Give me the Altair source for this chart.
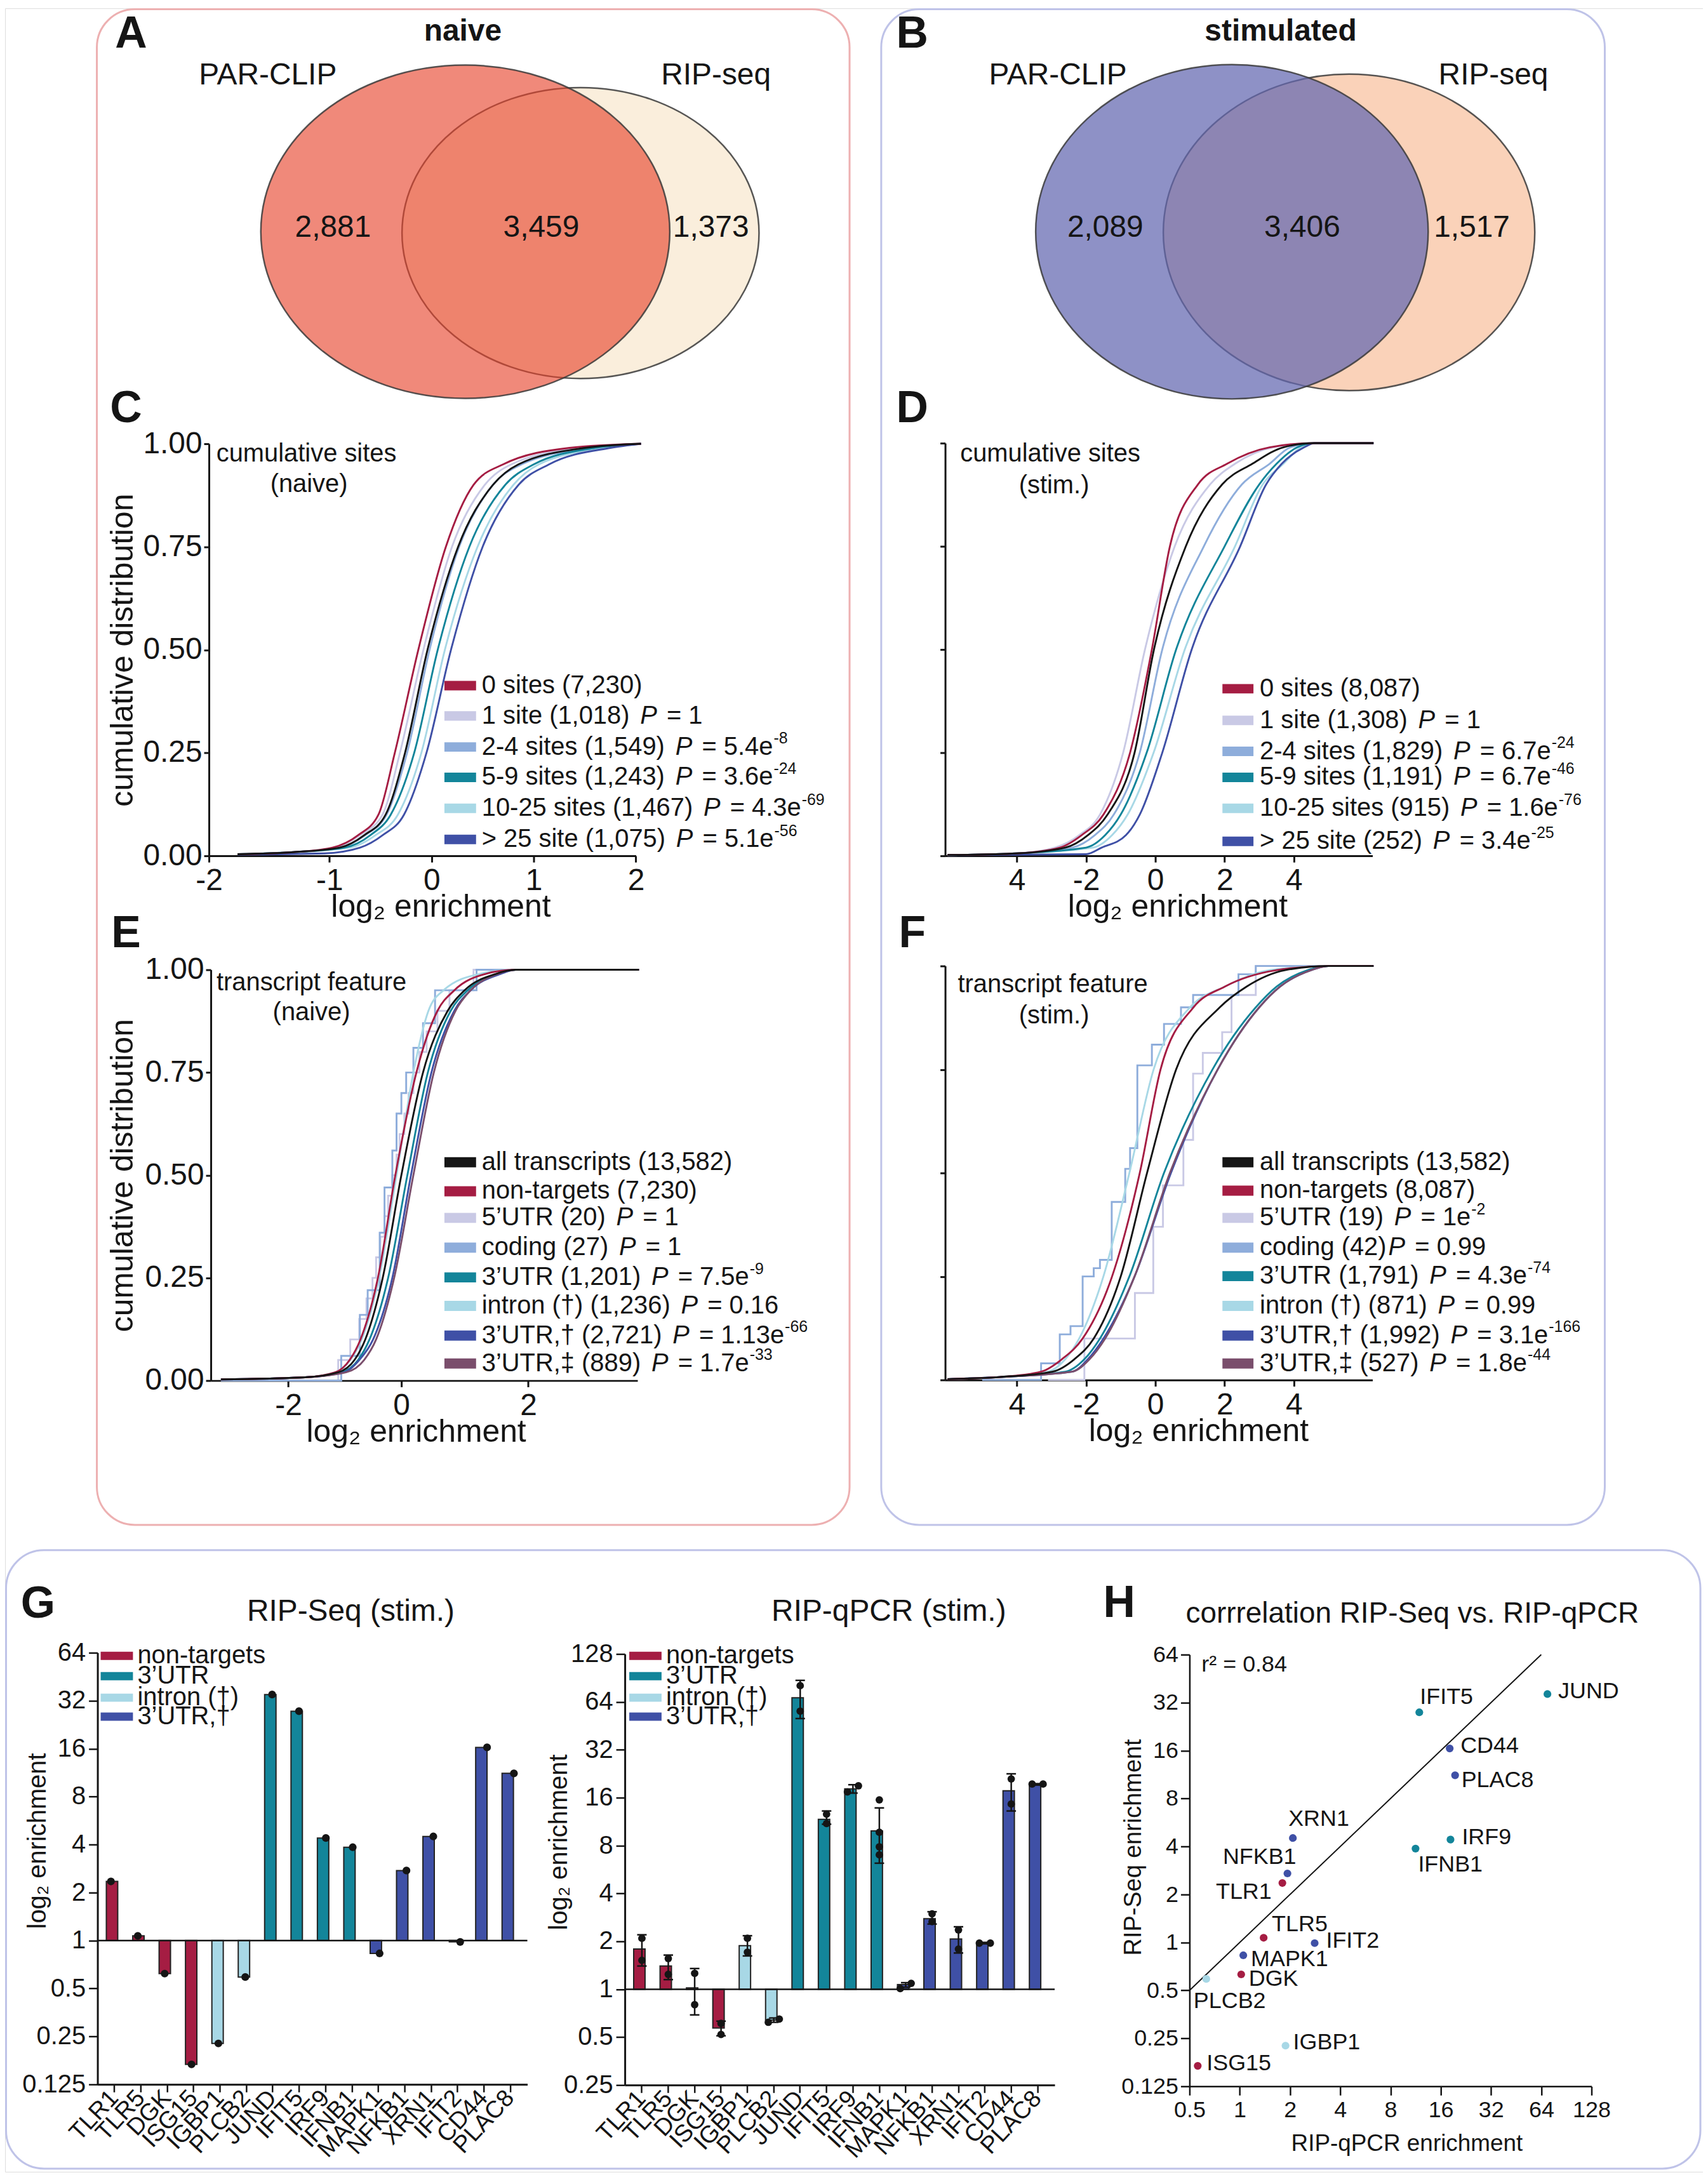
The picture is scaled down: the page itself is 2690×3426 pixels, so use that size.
import altair as alt
import pandas as pd

W, H = 2682, 3418
M = 8
FONT = "Liberation Sans"


def V(r):
    return r - M


RED = "#A51D43"; LAV = "#C9C9E5"; LBLUE = "#8EADDB"; TEAL = "#13859A"
CYAN = "#A8D8E6"; BLUE = "#3F50A6"; PURP = "#7A4E6C"; BLK = "#151515"

# ---------------- data ----------------
VENN_NAIVE = [2881, 3459, 1373]      # PAR-CLIP only, both, RIP-seq only
VENN_STIM = [2089, 3406, 1517]

CUM = [0.02, 0.05, 0.10, 0.25, 0.50, 0.75, 0.90, 0.95, 0.99]

C_ZERO = [-0.97, -0.72, -0.52, -0.36, -0.13, 0.14, 0.41, 0.70, 1.35]
C_ONE = [-0.95, -0.70, -0.48, -0.31, -0.08, 0.20, 0.52, 0.78, 1.45]
C_2_4 = [-0.90, -0.65, -0.44, -0.24, -0.02, 0.27, 0.60, 0.88, 1.55]
C_5_9 = [-0.85, -0.60, -0.40, -0.17, 0.06, 0.37, 0.72, 1.00, 1.60]
C_10_25 = [-0.80, -0.55, -0.33, -0.10, 0.13, 0.45, 0.80, 1.05, 1.70]
C_GT25 = [-0.70, -0.48, -0.27, -0.05, 0.19, 0.50, 0.85, 1.15, 1.75]
C_ALL = [-0.90, -0.66, -0.45, -0.26, -0.04, 0.26, 0.60, 0.85, 1.50]

D_ZERO = [-2.76, -2.13, -1.50, -0.73, -0.10, 0.42, 1.23, 2.07, 3.30]
D_ONE = [-2.90, -2.20, -1.60, -0.93, -0.30, 0.56, 1.58, 2.30, 3.40]
D_2_4 = [-2.40, -1.75, -1.20, -0.45, 0.20, 1.40, 2.50, 3.30, 3.90]
D_5_9 = [-2.00, -1.45, -1.00, -0.25, 0.60, 2.00, 3.00, 3.50, 4.10]
D_10_25 = [-1.80, -1.25, -0.80, -0.05, 0.85, 2.30, 3.10, 3.70, 4.20]
D_GT25 = [-1.55, -0.85, -0.45, 0.20, 1.05, 2.45, 3.20, 3.65, 4.30]
D_ALL = [-2.60, -1.95, -1.38, -0.60, -0.04, 0.88, 1.93, 2.80, 3.70]

E_ALL = [-1.05, -0.78, -0.60, -0.31, 0.00, 0.36, 0.77, 1.05, 1.57]
E_NONT = [-1.10, -0.86, -0.68, -0.39, -0.10, 0.25, 0.60, 0.88, 1.40]
E_UTR3 = [-1.00, -0.72, -0.53, -0.22, 0.10, 0.44, 0.82, 1.10, 1.60]
E_INTRON = [-1.10, -0.85, -0.66, -0.37, -0.08, 0.20, 0.45, 0.70, 1.30]
E_UTR3_D = [-0.95, -0.70, -0.47, -0.15, 0.16, 0.50, 0.88, 1.15, 1.65]
E_UTR3_DD = [-0.92, -0.62, -0.42, -0.12, 0.20, 0.54, 0.90, 1.15, 1.60]
E_UTR5_X = [-3.0, -1.05, -0.85, -0.70, -0.58, -0.48, -0.42, -0.35, -0.28, -0.22, -0.15,
            -0.08, -0.03, 0.05, 0.12, 0.20, 0.30, 0.42, 0.60, 0.80, 1.20, 3.95]
E_UTR5_C = [0.0, 0.05, 0.10, 0.15, 0.20, 0.25, 0.30, 0.35, 0.40, 0.45, 0.50,
            0.55, 0.60, 0.65, 0.70, 0.75, 0.80, 0.85, 0.90, 0.95, 1.0, 1.0]
E_COD_X = [-3.0, -1.0, -0.69, -0.56, -0.36, -0.28, -0.15, -0.08, 0.0, 0.08, 0.20, 0.36, 0.56, 1.25, 3.95]
E_COD_C = [0.0, 0.06, 0.16, 0.22, 0.36, 0.47, 0.56, 0.65, 0.70, 0.75, 0.81, 0.87, 0.95, 1.0, 1.0]

F_ALL = [-2.97, -2.34, -1.78, -1.00, -0.24, 0.60, 1.86, 2.63, 3.75]
F_NONT = [-3.30, -2.70, -2.10, -1.25, -0.45, 0.15, 1.10, 2.00, 3.50]
F_INTRON = [-3.10, -2.60, -2.20, -1.50, -0.75, -0.05, 1.00, 2.00, 3.30]
F_UTR3 = [-2.60, -2.05, -1.60, -0.75, 0.25, 1.65, 2.90, 3.50, 4.40]
F_UTR3_D = [-2.40, -1.95, -1.50, -0.60, 0.45, 1.80, 3.00, 3.60, 4.50]
F_UTR3_DD = [-2.40, -1.90, -1.45, -0.60, 0.42, 1.80, 3.00, 3.60, 4.50]
F_UTR5_X = [-3.1, -2.05, -0.59, -0.06, 0.22, 0.81, 1.09, 1.37, 1.93, 2.2, 2.9, 6.3]
F_UTR5_C = [0.0, 0.10, 0.21, 0.37, 0.47, 0.58, 0.74, 0.79, 0.84, 0.93, 1.0, 1.0]
F_COD_X = [-5.0, -3.3, -2.76, -2.45, -2.1, -1.78, -1.6, -1.26, -0.87, -0.73, -0.52,
           -0.1, 0.25, 0.74, 1.09, 2.4, 2.9, 6.3]
F_COD_C = [0.0, 0.04, 0.11, 0.13, 0.25, 0.27, 0.29, 0.43, 0.51, 0.56, 0.76,
           0.81, 0.86, 0.90, 0.93, 0.98, 1.0, 1.0]

G_GENES = ["TLR1", "TLR5", "DGK", "ISG15", "IGBP1", "PLCB2", "JUND", "IFIT5", "IRF9",
           "IFNB1", "MAPK1", "NFKB1", "XRN1", "IFIT2", "CD44", "PLAC8"]
G_CLASS_COLORS = [RED] * 4 + [CYAN] * 2 + [TEAL] * 4 + [BLUE] * 6
RIPSEQ = [2.35, 1.07, 0.62, 0.167, 0.226, 0.59, 35.0, 27.5, 4.4, 3.85, 0.83, 2.75, 4.5, 0.98, 16.3, 11.2]
QPCR_MEAN = [1.79, 1.40, 1.02, 0.57, 1.88, 0.64, 68.0, 11.7, 18.2, 9.9, 1.07, 2.78, 2.07, 1.95, 17.7, 19.4]
QPCR_LO = [1.40, 1.15, 0.69, 0.51, 1.62, 0.62, 50.3, 10.9, 17.1, 6.2, 1.03, 2.57, 1.69, 1.93, 13.2, 19.2]
QPCR_HI = [2.20, 1.64, 1.35, 0.63, 2.17, 0.66, 87.4, 13.2, 19.3, 13.8, 1.10, 3.07, 2.47, 1.97, 22.6, 19.6]
QPCR_REPS = [[2.09, 1.52], [1.56, 1.24], [1.26, 0.80], [0.61, 0.52], [2.09, 1.71], [0.62, 0.65],
             [81.0, 56.0], [12.6, 11.0], [17.4, 19.0], [15.5, 9.7, 7.86, 7.0], [1.01, 1.09],
             [2.98, 2.66], [2.36, 1.79], [1.95, 1.95], [21.0, 14.6], [19.5, 19.5]]
SIDE_BY_SIDE = ["PLCB2", "IRF9", "MAPK1", "IFIT2", "PLAC8"]
H_QPCR = [1.80, 1.39, 1.02, 0.56, 1.88, 0.63, 69.7, 11.9, 18.3, 11.3, 1.05, 1.93, 2.08, 2.81, 18.1, 19.5]
H_RIPSEQ = [2.36, 1.07, 0.63, 0.168, 0.225, 0.59, 36.2, 27.8, 4.42, 3.88, 0.83, 2.71, 4.52, 0.99, 16.5, 11.2]
H_FIT = [0.5, 64]
H_LABEL_POS = {"JUND": ("left", 17, -4), "IFIT5": ("left", 1, -24), "CD44": ("left", 17, -4),
               "PLAC8": ("left", 10, 8), "IRF9": ("left", 18, -4), "IFNB1": ("left", 4, 25),
               "XRN1": ("left", -7, -30), "NFKB1": ("right", 14, -26), "TLR1": ("right", -17, 14),
               "TLR5": ("left", 13, -21), "IFIT2": ("left", 18, -4), "MAPK1": ("left", 12, 6),
               "DGK": ("left", 12, 7), "PLCB2": ("left", -20, 35), "IGBP1": ("left", 12, -5),
               "ISG15": ("left", 14, -4)}

# ---------------- helpers ----------------
AW = {" ": 278, "(": 333, ")": 333, ",": 278, "-": 333, ".": 278, "=": 584, ">": 584,
      "’": 222, "†": 556, "‡": 556}
for _d in "0123456789":
    AW[_d] = 556
AW.update(dict(zip("ABCDEFGHIJKLMNOPQRSTUVWXYZ",
                   [667, 667, 722, 722, 667, 611, 778, 722, 278, 500, 667, 556, 833, 722, 778, 667,
                    778, 722, 667, 611, 722, 667, 944, 667, 667, 611])))
AW.update(dict(zip("abcdefghijklmnopqrstuvwxyz",
                   [556, 556, 500, 556, 556, 278, 556, 556, 222, 222, 500, 222, 833, 556, 556, 556,
                    556, 333, 500, 278, 556, 500, 722, 500, 500, 500])))


def tw(s, size):
    s = " ".join(s.split())
    return sum(AW.get(c, 556) for c in s) * size / 1000.0


def axis(orient, offset, **kw):
    base = dict(orient=orient, offset=offset, domainColor=BLK, tickColor=BLK, labelColor=BLK,
                titleColor=BLK, grid=False, labelFont=FONT, titleFont=FONT,
                titleFontWeight="normal", labelFlush=False, labelOverlap=False)
    base.update(kw)
    return alt.Axis(**base)


def curve(lo, mid, hi):
    return lo[0] + mid + hi[0], lo[1] + CUM + hi[1]


ANN = []
SW = []
LAYERS = []


def legend(items, sw0, sw1, tx, ys, swh, size=40):
    for (color, label, pv, ex, gap), y in zip(items, ys):
        SW.append(dict(x=V(sw0), x2=V(sw1), y=V(y - swh / 2), y2=V(y + swh / 2), color=color))
        ANN.append(dict(x=V(tx), y=V(y), text=label, size=size, style="reg_l"))
        if pv is not None:
            px = tx + tw(label, size) + (0.42 * size if gap else 3)
            ANN.append(dict(x=V(px), y=V(y), text="P", size=size, style="ital_l"))
            s = "= " + pv
            ex_x = px + tw("P", size) + 0.38 * size
            ANN.append(dict(x=V(ex_x), y=V(y), text=s, size=size, style="reg_l"))
            if ex:
                ANN.append(dict(x=V(ex_x + tw(s, size) + 1), y=V(y - 0.34 * size), text=ex,
                                size=round(size * 0.62), style="reg_l"))


def cdf_panel(series, xdom, xr, yr, xvals, xexpr, ylabels, ytitle, ytx, xtx):
    xs = alt.Scale(domain=xdom, range=[V(xr[0]), V(xr[1])], nice=False, zero=False)
    ys = alt.Scale(domain=[0, 1], range=[V(yr[0]), V(yr[1])], nice=False, zero=False)
    xa = axis("bottom", V(yr[0]) - H, values=xvals, labelExpr=xexpr, labelFontSize=48,
              tickSize=10, tickWidth=3, domainWidth=3, labelPadding=6,
              title="log₂ enrichment", titleFontSize=50, titleX=V(xtx), titleY=96,
              titleAlign="center", titleBaseline="alphabetic", titleAngle=0)
    ykw = dict(values=[0, 0.25, 0.5, 0.75, 1], format=".2f", labels=ylabels, labelFontSize=48,
               tickSize=8, tickWidth=3, domainWidth=3, labelPadding=3)
    if ytitle:
        ykw.update(title=ytitle, titleFontSize=50, titleX=ytx, titleY=V((yr[0] + yr[1]) / 2),
                   titleAngle=270, titleAlign="center", titleBaseline="alphabetic")
    else:
        ykw.update(title=None)
    ya = axis("left", -V(xr[0]), **ykw)
    for i, (xv, cv, color, interp) in enumerate(series):
        df = pd.DataFrame({"x": xv, "c": cv})
        LAYERS.append(alt.Chart(df).mark_line(interpolate=interp, color=color, strokeWidth=2.9).encode(
            x=alt.X("x:Q", scale=xs, axis=xa if i == len(series) - 1 else None),
            y=alt.Y("c:Q", scale=ys, axis=ya if i == len(series) - 1 else None)))


def ellipse_path(k):
    c = 0.5523
    return (f"M1,0 C1,{c*k:.4f} {c:.4f},{k:.4f} 0,{k:.4f} C{-c:.4f},{k:.4f} -1,{c*k:.4f} -1,0 "
            f"C-1,{-c*k:.4f} {-c:.4f},{-k:.4f} 0,{-k:.4f} C{c:.4f},{-k:.4f} 1,{-c*k:.4f} 1,0 Z")


def venn(counts, k, cx, cy, fills, op, left_size):
    left_total = counts[0] + counts[1]
    right_total = counts[1] + counts[2]
    df = pd.DataFrame({"total": [right_total, left_total], "cx": [V(cx[1]), V(cx[0])],
                       "cy": [V(cy[1]), V(cy[0])], "fill": [fills[1], fills[0]], "op": [1.0, op]})
    return alt.Chart(df).mark_point(shape=ellipse_path(k), filled=True, opacity=1, stroke="#3a3a3a",
                                    strokeWidth=2.5, strokeOpacity=0.85).encode(
        x=alt.X("cx:Q", scale=None), y=alt.Y("cy:Q", scale=None),
        size=alt.Size("total:Q", scale=alt.Scale(domain=[0, left_total], range=[0, left_size]), legend=None),
        fill=alt.Fill("fill:N", scale=None), fillOpacity=alt.FillOpacity("op:Q", scale=None))


# ---------------- boxes ----------------
BOX = pd.DataFrame({"x": [V(153), V(1392), 1.5], "x2": [V(1342), V(2535), V(2686)],
                    "y": [1.5, 1.5, V(2444)], "y2": [V(2404), V(2404), V(3421)],
                    "col": ["#EDB0B1", "#BFC3E8", "#BFC3E8"]})
LAYERS.append(alt.Chart(BOX).mark_rect(fillOpacity=0, strokeWidth=3, cornerRadius=60).encode(
    x=alt.X("x:Q", scale=None), x2="x2:Q", y=alt.Y("y:Q", scale=None), y2="y2:Q",
    stroke=alt.Stroke("col:N", scale=None)))

# ---------------- Venns ----------------
LAYERS.append(venn(VENN_NAIVE, 0.815, [735, 917], [361, 363], ["#E74128", "#FAEEDC"], 0.62, 646 ** 2))
LAYERS.append(venn(VENN_STIM, 0.852, [1946, 2131], [361, 362], ["#6366B0", "#FAD2B9"], 0.72, 620 ** 2))

for s, x, y in [("PAR-CLIP", 423, 114), ("RIP-seq", 1131, 114), ("PAR-CLIP", 1671, 114), ("RIP-seq", 2359, 114)]:
    ANN.append(dict(x=V(x), y=V(y), text=s, size=48, style="reg_c"))
for cnts, xs_ in [(VENN_NAIVE, [526, 855, 1123]), (VENN_STIM, [1746, 2057, 2325])]:
    for n, x in zip(cnts, xs_):
        ANN.append(dict(x=V(x), y=V(355), text=f"{n:,}", size=48, style="reg_c"))
ANN.append(dict(x=V(731), y=V(45), text="naive", size=48, style="bold_c"))
ANN.append(dict(x=V(2023), y=V(45), text="stimulated", size=48, style="bold_c"))
for s, x, y in [("A", 207, 49), ("B", 1441, 49), ("C", 199, 641), ("D", 1441, 641),
                ("E", 199, 1470), ("F", 1441, 1470), ("G", 60, 2529), ("H", 1768, 2528)]:
    ANN.append(dict(x=V(x), y=V(y), text=s, size=70, style="bold_c"))

# ---------------- CDF panels ----------------
INT_EXPR = "datum.value < 0 ? '-' + toString(abs(round(datum.value))) : toString(round(datum.value))"
C_LO = ([-1.9, -1.35], [0.004, 0.009]); C_LO2 = ([-1.9, -1.05], [0.003, 0.006]); C_HI = ([2.05], [1.0])
cdf_panel([
    (*curve(C_LO, C_ONE, C_HI), LAV, "monotone"),
    (*curve(C_LO, C_2_4, C_HI), LBLUE, "monotone"),
    (*curve(C_LO, C_10_25, C_HI), CYAN, "monotone"),
    (*curve(C_LO, C_5_9, C_HI), TEAL, "monotone"),
    (*curve(C_LO2, C_GT25, C_HI), BLUE, "monotone"),
    (*curve(C_LO, C_ZERO, C_HI), RED, "monotone"),
    (*curve(C_LO, C_ALL, C_HI), BLK, "monotone"),
], [-2.18, 2.0], [330, 1004.4], [1347, 696], [-2.18, -1, 0, 1, 2], INT_EXPR,
    True, "cumulative distribution", V(209) - V(330), 696)

D_LO = ([-6.0, -4.0], [0.002, 0.006]); D_LO2 = ([-6.0, -2.0], [0.002, 0.004]); D_HI = ([4.6, 6.3], [1.0, 1.0])
DX_EXPR = ("datum.value == -4 ? '4' : (datum.value < 0 ? '-' + toString(abs(datum.value)) : toString(datum.value))")
cdf_panel([
    (*curve(D_LO, D_ONE, D_HI), LAV, "monotone"),
    (*curve(D_LO, D_2_4, D_HI), LBLUE, "monotone"),
    (*curve(D_LO, D_10_25, D_HI), CYAN, "monotone"),
    (*curve(D_LO, D_5_9, D_HI), TEAL, "monotone"),
    (*curve(D_LO2, D_GT25, D_HI), BLUE, "monotone"),
    (*curve(D_LO, D_ZERO, D_HI), RED, "monotone"),
    (*curve(D_LO, D_ALL, D_HI), BLK, "monotone"),
], [-6.07, 6.27], [1493, 2168], [1347, 695], [-4, -2, 0, 2, 4], DX_EXPR,
    False, None, 0, 1860)

E_LO = ([-3.0, -1.6], [0.003, 0.008]); E_HI = ([1.9, 3.95], [1.0, 1.0])
cdf_panel([
    (E_UTR5_X, E_UTR5_C, LAV, "step-after"),
    (E_COD_X, E_COD_C, LBLUE, "step-after"),
    (*curve(E_LO, E_INTRON, E_HI), CYAN, "monotone"),
    (*curve(E_LO, E_UTR3, E_HI), TEAL, "monotone"),
    (*curve(E_LO, E_UTR3_D, E_HI), BLUE, "monotone"),
    (*curve(E_LO, E_UTR3_DD, E_HI), PURP, "monotone"),
    (*curve(E_LO, E_NONT, E_HI), RED, "monotone"),
    (*curve(E_LO, E_ALL, E_HI), BLK, "monotone"),
], [-3.168, 3.926], [333, 1007], [2176, 1527], [-1.88, 0, 2.11], INT_EXPR,
    True, "cumulative distribution", V(209) - V(333), 657)

F_LO = ([-6.0, -4.5], [0.002, 0.007]); F_HI = ([5.0, 6.3], [1.0, 1.0])
cdf_panel([
    (F_UTR5_X, F_UTR5_C, LAV, "step-after"),
    (F_COD_X, F_COD_C, LBLUE, "step-after"),
    (*curve(F_LO, F_INTRON, F_HI), CYAN, "monotone"),
    (*curve(F_LO, F_UTR3, F_HI), TEAL, "monotone"),
    (*curve(F_LO, F_UTR3_D, F_HI), BLUE, "monotone"),
    (*curve(F_LO, F_UTR3_DD, F_HI), PURP, "monotone"),
    (*curve(F_LO, F_NONT, F_HI), RED, "monotone"),
    (*curve(F_LO, F_ALL, F_HI), BLK, "monotone"),
], [-6.07, 6.27], [1493, 2168], [2175, 1521], [-4, -2, 0, 2, 4], DX_EXPR,
    False, None, 0, 1893)

for s, x, y in [("cumulative sites", 484, 712), ("(naive)", 488, 760), ("cumulative sites", 1659, 712),
                ("(stim.)", 1665, 762), ("transcript feature", 492, 1548), ("(naive)", 492, 1595),
                ("transcript feature", 1663, 1551), ("(stim.)", 1665, 1600)]:
    ANN.append(dict(x=V(x), y=V(y), text=s, size=40, style="reg_c"))

legend([(RED, "0 sites (7,230)", None, None, True),
        (LAV, "1 site (1,018)", "1", None, True),
        (LBLUE, "2-4 sites (1,549)", "5.4e", "-8", True),
        (TEAL, "5-9 sites (1,243)", "3.6e", "-24", True),
        (CYAN, "10-25 sites (1,467)", "4.3e", "-69", True),
        (BLUE, "> 25 site (1,075)", "5.1e", "-56", True)],
       702, 752, 761, [1078, 1126, 1175, 1223, 1272, 1321], 15)
legend([(RED, "0 sites (8,087)", None, None, True),
        (LAV, "1 site (1,308)", "1", None, True),
        (LBLUE, "2-4 sites (1,829)", "6.7e", "-24", True),
        (TEAL, "5-9 sites (1,191)", "6.7e", "-46", True),
        (CYAN, "10-25 sites (915)", "1.6e", "-76", True),
        (BLUE, "> 25 site (252)", "3.4e", "-25", True)],
       1931, 1980, 1990, [1083, 1133, 1182, 1223, 1272, 1324], 15)
legend([(BLK, "all transcripts (13,582)", None, None, True),
        (RED, "non-targets (7,230)", None, None, True),
        (LAV, "5’UTR (20)", "1", None, True),
        (LBLUE, "coding (27)", "1", None, True),
        (TEAL, "3’UTR (1,201)", "7.5e", "-9", True),
        (CYAN, "intron (†) (1,236)", "0.16", None, True),
        (BLUE, "3’UTR,† (2,721)", "1.13e", "-66", True),
        (PURP, "3’UTR,‡ (889)", "1.7e", "-33", True)],
       702, 752, 761, [1831, 1877, 1919, 1966, 2013, 2058, 2105, 2149], 16)
legend([(BLK, "all transcripts  (13,582)", None, None, True),
        (RED, "non-targets (8,087)", None, None, True),
        (LAV, "5’UTR (19)", "1e", "-2", True),
        (LBLUE, "coding  (42)", "0.99", None, False),
        (TEAL, "3’UTR (1,791)", "4.3e", "-74", True),
        (CYAN, "intron (†) (871)", "0.99", None, True),
        (BLUE, "3’UTR,† (1,992)", "3.1e", "-166", True),
        (PURP, "3’UTR,‡  (527)", "1.8e", "-44", True)],
       1931, 1980, 1990, [1831, 1876, 1919, 1966, 2011, 2058, 2105, 2149], 16)

# ---------------- G panels ----------------
G_LEG = [(RED, "non-targets"), (TEAL, "3’UTR"), (CYAN, "intron (†)"), (BLUE, "3’UTR,†")]
for (sw0, sw1, tx) in [(159, 210, 217), (994, 1045, 1052)]:
    for (col, lab), y in zip(G_LEG, [2611, 2643, 2677, 2707]):
        SW.append(dict(x=V(sw0), x2=V(sw1), y=V(y - 6.5), y2=V(y + 6.5), color=col))
        ANN.append(dict(x=V(tx), y=V(y), text=lab, size=40, style="reg_l"))
ANN.append(dict(x=V(554), y=V(2542), text="RIP-Seq (stim.)", size=48, style="reg_c"))
ANN.append(dict(x=V(1404), y=V(2542), text="RIP-qPCR (stim.)", size=48, style="reg_c"))
ANN.append(dict(x=V(2231), y=V(2545), text="corrrelation RIP-Seq vs. RIP-qPCR", size=46, style="reg_c"))
ANN.append(dict(x=V(1898), y=V(2625), text="r² = 0.84", size=36, style="reg_l"))

LOG_LABEL = "'' + datum.value"


def bar_axes(xr, yr, ydom, yvals, ytx, yty):
    xs = alt.Scale(domain=G_GENES, range=[V(xr[0]), V(xr[1])], paddingInner=0.376, paddingOuter=0.335)
    ys = alt.Scale(type="log", base=2, domain=ydom, range=[V(yr[0]), V(yr[1])], nice=False)
    xa = axis("bottom", V(yr[0]) - H, labelAngle=313, labelAlign="right", labelBaseline="middle",
              labelFontSize=38, tickSize=12, tickWidth=2.5, domainWidth=3, labelPadding=3,
              labelLimit=400, title=None)
    ya = axis("left", -V(xr[0]), values=yvals, labelExpr=LOG_LABEL, labelFontSize=40, tickSize=14,
              tickWidth=2.5, domainWidth=3, labelPadding=5, title="log₂ enrichment", titleFontSize=40,
              titleX=ytx, titleY=V(yty), titleAngle=270, titleAlign="center", titleBaseline="alphabetic")
    return xs, ys, xa, ya


gdf = pd.DataFrame({"gene": G_GENES, "color": G_CLASS_COLORS, "val": RIPSEQ, "base": 1.0})
xs1, ys1, xa1, ya1 = bar_axes([154, 833], [3288, 2606], [0.125, 64],
                              [0.125, 0.25, 0.5, 1, 2, 4, 8, 16, 32, 64], V(72) - V(154), 2903)
LAYERS.append(alt.Chart(gdf).mark_bar(stroke="#222222", strokeWidth=2).encode(
    x=alt.X("gene:N", scale=xs1, axis=xa1), y=alt.Y("val:Q", scale=ys1, axis=ya1), y2="base:Q",
    color=alt.Color("color:N", scale=None)))
LAYERS.append(alt.Chart(pd.DataFrame({"val": [1.0], "p0": [V(154)], "p1": [V(833)]})).mark_rule(
    color=BLK, strokeWidth=2.5).encode(
    y=alt.Y("val:Q", scale=ys1, axis=None), x=alt.X("p0:Q", scale=None), x2="p1:Q"))
LAYERS.append(alt.Chart(gdf).mark_circle(size=150, color=BLK, opacity=1).encode(
    x=alt.X("gene:N", scale=xs1, axis=None), y=alt.Y("val:Q", scale=ys1, axis=None)))

qdf = pd.DataFrame({"gene": G_GENES, "color": G_CLASS_COLORS, "val": QPCR_MEAN, "base": 1.0,
                    "lo": QPCR_LO, "hi": QPCR_HI})
rep_rows = []
for g, reps in zip(G_GENES, QPCR_REPS):
    for j, r in enumerate(reps):
        off = (["L", "R"][j % 2]) if g in SIDE_BY_SIDE else "C"
        rep_rows.append(dict(gene=g, val=r, off=off))
rdf = pd.DataFrame(rep_rows)
xs2, ys2, xa2, ya2 = bar_axes([987, 1666], [3289, 2608], [0.25, 128],
                              [0.25, 0.5, 1, 2, 4, 8, 16, 32, 64, 128], V(895) - V(987), 2905)
LAYERS.append(alt.Chart(qdf).mark_bar(stroke="#222222", strokeWidth=2).encode(
    x=alt.X("gene:N", scale=xs2, axis=xa2), y=alt.Y("val:Q", scale=ys2, axis=ya2), y2="base:Q",
    color=alt.Color("color:N", scale=None)))
LAYERS.append(alt.Chart(pd.DataFrame({"val": [1.0], "p0": [V(987)], "p1": [V(1666)]})).mark_rule(
    color=BLK, strokeWidth=2.5).encode(
    y=alt.Y("val:Q", scale=ys2, axis=None), x=alt.X("p0:Q", scale=None), x2="p1:Q"))
LAYERS.append(alt.Chart(qdf).mark_rule(color=BLK, strokeWidth=2.5).encode(
    x=alt.X("gene:N", scale=xs2, axis=None), y=alt.Y("lo:Q", scale=ys2, axis=None), y2="hi:Q"))
LAYERS.append(alt.Chart(qdf).mark_tick(color=BLK, thickness=2.5, size=15, opacity=1).encode(
    x=alt.X("gene:N", scale=xs2, axis=None), y=alt.Y("lo:Q", scale=ys2, axis=None)))
LAYERS.append(alt.Chart(qdf).mark_tick(color=BLK, thickness=2.5, size=15, opacity=1).encode(
    x=alt.X("gene:N", scale=xs2, axis=None), y=alt.Y("hi:Q", scale=ys2, axis=None)))
LAYERS.append(alt.Chart(rdf).mark_circle(size=140, color=BLK, opacity=1).encode(
    x=alt.X("gene:N", scale=xs2, axis=None),
    xOffset=alt.XOffset("off:N", scale=alt.Scale(domain=["L", "C", "R"])),
    y=alt.Y("val:Q", scale=ys2, axis=None)))

# ---------------- H scatter ----------------
hdf = pd.DataFrame({"gene": G_GENES, "q": H_QPCR, "r": H_RIPSEQ, "color": G_CLASS_COLORS})
xh = alt.Scale(type="log", base=2, domain=[0.5, 128], range=[V(1879), V(2514)], nice=False)
yh = alt.Scale(type="log", base=2, domain=[0.125, 64], range=[V(3291), V(2609)], nice=False)
xah = axis("bottom", V(3291) - H, values=[0.5, 1, 2, 4, 8, 16, 32, 64, 128], labelExpr=LOG_LABEL,
           labelFontSize=36, tickSize=14, tickWidth=2.5, domainWidth=2.5, labelPadding=6,
           title="RIP-qPCR enrichment", titleFontSize=37, titleX=V(2222), titleY=101,
           titleAlign="center", titleBaseline="alphabetic", titleAngle=0)
yah = axis("left", -V(1879), values=[0.125, 0.25, 0.5, 1, 2, 4, 8, 16, 32, 64], labelExpr=LOG_LABEL,
           labelFontSize=36, tickSize=14, tickWidth=2.5, domainWidth=2.5, labelPadding=4,
           title="RIP-Seq enrichment", titleFontSize=38, titleX=V(1802) - V(1879), titleY=V(2913),
           titleAngle=270, titleAlign="center", titleBaseline="alphabetic")
LAYERS.append(alt.Chart(pd.DataFrame({"q": H_FIT, "r": H_FIT})).mark_line(color=BLK, strokeWidth=2).encode(
    x=alt.X("q:Q", scale=xh, axis=xah), y=alt.Y("r:Q", scale=yh, axis=yah)))
LAYERS.append(alt.Chart(hdf).mark_circle(size=150, opacity=1).encode(
    x=alt.X("q:Q", scale=xh, axis=None), y=alt.Y("r:Q", scale=yh, axis=None),
    color=alt.Color("color:N", scale=None)))
for g in G_GENES:
    al, dx, dy = H_LABEL_POS[g]
    LAYERS.append(alt.Chart(hdf).transform_filter(alt.datum.gene == g).mark_text(
        align=al, baseline="middle", dx=dx, dy=dy, fontSize=36, color=BLK).encode(
        x=alt.X("q:Q", scale=xh, axis=None), y=alt.Y("r:Q", scale=yh, axis=None), text="gene:N"))

# ---------------- annotations ----------------
ann_df = pd.DataFrame(ANN)
sw_df = pd.DataFrame(SW)
LAYERS.append(alt.Chart(sw_df).mark_rect().encode(
    x=alt.X("x:Q", scale=None), x2="x2:Q", y=alt.Y("y:Q", scale=None), y2="y2:Q",
    color=alt.Color("color:N", scale=None)))


def text_layer(style, **mk):
    return alt.Chart(ann_df).transform_filter(alt.datum.style == style).mark_text(
        baseline="middle", color=BLK, **mk).encode(
        x=alt.X("x:Q", scale=None), y=alt.Y("y:Q", scale=None), text="text:N",
        size=alt.Size("size:Q", scale=None))


LAYERS += [text_layer("reg_l", align="left"), text_layer("reg_c", align="center"),
           text_layer("bold_c", align="center", fontWeight="bold"),
           text_layer("ital_l", align="left", fontStyle="italic")]

chart = alt.layer(*LAYERS).resolve_scale(
    x="independent", y="independent", size="independent").properties(
    width=W, height=H, padding=0, autosize=alt.AutoSizeParams(type="none")).configure_view(
    stroke="transparent").configure(font=FONT)

chart.save("out.html", embed_options={"renderer": "svg", "actions": False})
